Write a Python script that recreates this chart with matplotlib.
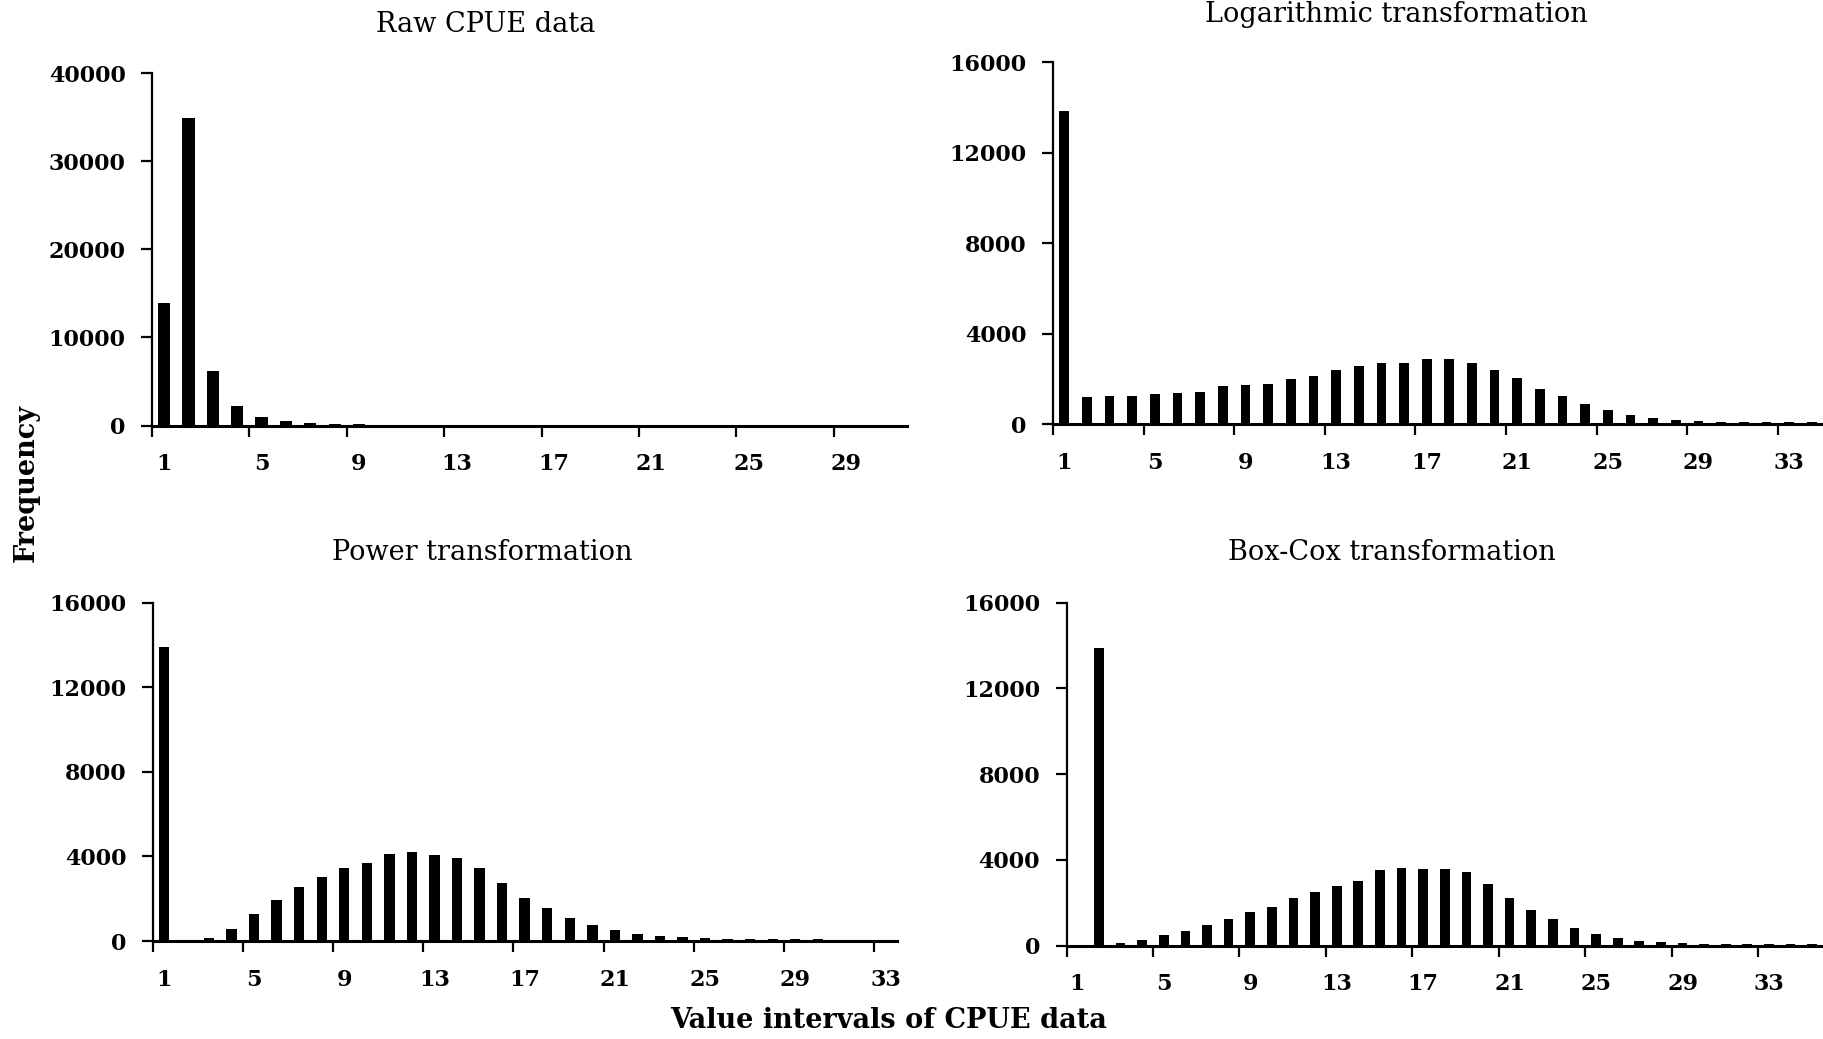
import numpy as np
import matplotlib
matplotlib.use("Agg")
import matplotlib.pyplot as plt

plt.rcParams['font.family'] = 'DejaVu Serif'

# frequency of CPUE values in each interval
raw_freq = [13900, 34900, 6200, 2200, 1000, 550, 330, 200, 130, 90, 70, 60,
            55, 50, 50, 45, 45, 40, 40, 40, 35, 35, 30, 30, 60, 50, 30, 30, 30,
            30, 80]
log_freq = [13850, 1200, 1230, 1250, 1330, 1380, 1410, 1660, 1740, 1790, 1990,
            2120, 2390, 2560, 2710, 2700, 2855, 2870, 2700, 2410, 2045, 1540,
            1260, 880, 640, 410, 260, 170, 120, 90, 80, 70, 70, 70]
power_freq = [13900, 0, 120, 550, 1260, 1940, 2570, 3030, 3470, 3670, 4130,
              4190, 4080, 3910, 3435, 2725, 2050, 1560, 1090, 760, 500, 330,
              240, 170, 130, 110, 90, 80, 75, 75, 70, 70, 70]
boxcox_freq = [0, 13900, 110, 280, 490, 690, 955, 1245, 1580, 1810, 2220, 2500,
               2780, 3000, 3530, 3620, 3590, 3590, 3440, 2850, 2240, 1660,
               1260, 840, 545, 340, 220, 155, 100, 80, 75, 70, 70, 70, 70]

titles = ['Raw CPUE data', 'Logarithmic transformation',
          'Power transformation', 'Box-Cox transformation']

W, H = 1823, 1039
fig = plt.figure(figsize=(W / 100, H / 100), dpi=100)


def px_axes(x0, x1, y_top, y_zero):
    return fig.add_axes([x0 / W, 1 - y_zero / H, (x1 - x0) / W,
                         (y_zero - y_top) / H])


def draw_panel(ax, freq, ymax, ystep, width):
    n = len(freq)
    cats = np.arange(1, n + 1)
    ax.bar(cats, freq, width=width, color='black', edgecolor='none', zorder=1)
    ax.set_xlim(0.5, n + 0.5)
    ax.set_ylim(0, ymax)
    ax.set_yticks(np.arange(0, ymax + 1, ystep))
    ax.set_xticks(np.arange(0.5, n + 0.5, 4))
    ax.set_xticklabels([])
    ax.set_xticks(np.arange(1, n + 1, 4), minor=True)
    ax.set_xticklabels([str(c) for c in range(1, n + 1, 4)], minor=True,
                       fontsize=16, fontweight='bold')
    ax.tick_params(axis='x', which='major', direction='out', length=8,
                   width=1.6)
    ax.tick_params(axis='x', which='minor', length=0, pad=20)
    ax.tick_params(axis='y', direction='out', length=8, width=1.6, pad=11,
                   labelsize=16)
    for lab in ax.get_yticklabels():
        lab.set_fontweight('bold')
    for side in ['top', 'right']:
        ax.spines[side].set_visible(False)
    ax.spines['left'].set_linewidth(1.6)
    ax.spines['bottom'].set_linewidth(2.2)
    ax.spines['bottom'].set_zorder(0.5)


ax1 = px_axes(152, 152 + 31 * 24.35, 73, 425.5)
draw_panel(ax1, raw_freq, 40000, 10000, 0.5)

ax2 = px_axes(1053, 1823, 62.3, 424)
draw_panel(ax2, log_freq, 16000, 4000, 0.43)

ax3 = px_axes(152.6, 152.6 + 33 * 22.55, 602.7, 941)
draw_panel(ax3, power_freq, 16000, 4000, 0.46)

ax4 = px_axes(1066.5, 1823, 602.7, 945.5)
draw_panel(ax4, boxcox_freq, 16000, 4000, 0.45)

# panel titles
title_pos = [(486, 24), (1396, 14), (482, 553), (1392, 553)]
for (tx, ty), t in zip(title_pos, titles):
    fig.text(tx / W, 1 - ty / H, t, ha='center', va='center', fontsize=19.5)

fig.text(889 / W, 1 - 1021 / H, 'Value intervals of CPUE data', ha='center',
         va='center', fontsize=19.5, fontweight='bold')
fig.text(26 / W, 1 - 483 / H, 'Frequency', ha='center', va='center',
         rotation=90, fontsize=19.5, fontweight='bold')

fig.savefig('out.png', dpi=100)
